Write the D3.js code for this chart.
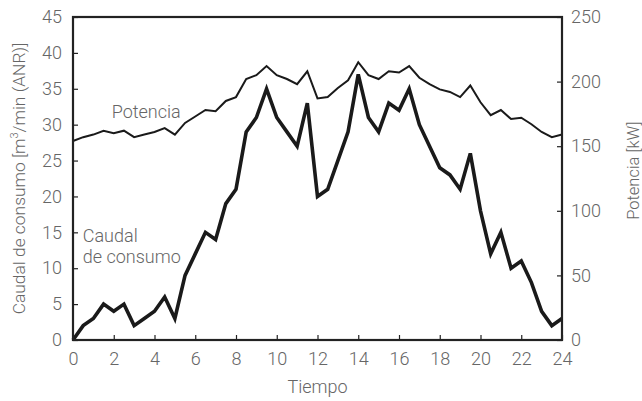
<!DOCTYPE html>
<html>
<head>
<meta charset="utf-8">
<script src="https://cdn.jsdelivr.net/npm/d3@7"></script>
<style>
  html, body { margin: 0; padding: 0; background: #fff; }
  svg text { font-family: "Roboto", "Liberation Sans", sans-serif; font-weight: 300; fill: #666; }
</style>
</head>
<body>
<svg id="chart" width="642" height="401"></svg>
<script>
// Hourly time axis, readings every half hour
const hours = d3.range(0, 24.5, 0.5);

// Air consumption flow [m3/min (ANR)]
const caudal = [0, 2, 3, 5, 4, 5, 2, 3, 4, 6, 3, 9, 12, 15, 14, 19, 21, 29, 31, 35,
  31, 29, 27, 33, 20, 21, 25, 29, 37, 31, 29, 33, 32, 35, 30, 27, 24, 23, 21, 26,
  18, 12, 15, 10, 11, 8, 4, 2, 3];

// Compressor power [kW]
const potencia = [154, 157, 159, 162, 160, 162, 157, 159, 161, 164, 159, 168, 173, 178, 177, 185, 188, 202, 205, 212,
  205, 202, 198, 208, 187, 188, 195, 201, 215, 205, 202, 208, 207, 212, 203, 198, 194, 192, 188, 197,
  184, 174, 178, 171, 172, 167, 161, 157, 159];

const xTicks = d3.range(0, 25, 2);
const leftTicks = d3.range(0, 46, 5);
const rightTicks = d3.range(0, 251, 50);

const svg = d3.select("#chart");
const margin = { left: 73, right: 80, top: 17, bottom: 61 };
const W = 642, H = 401;
const x = d3.scaleLinear().domain([0, 24]).range([margin.left, W - margin.right]);
const yL = d3.scaleLinear().domain([0, 45]).range([H - margin.bottom, margin.top]);
const yR = d3.scaleLinear().domain([0, 250]).range([H - margin.bottom, margin.top]);

const axisColor = "#222";
const fontSize = 18;

// Series
const lineThin = d3.line().x((d, i) => x(hours[i])).y(d => yR(d));
const lineThick = d3.line().x((d, i) => x(hours[i])).y(d => yL(d));

svg.append("path").datum(potencia)
  .attr("d", lineThin).attr("fill", "none")
  .attr("stroke", "#1a1a1a").attr("stroke-width", 2).attr("stroke-linejoin", "miter");
svg.append("path").datum(caudal)
  .attr("d", lineThick).attr("fill", "none")
  .attr("stroke", "#1a1a1a").attr("stroke-width", 3.6).attr("stroke-linejoin", "miter");

// Axes with inward ticks
function styleAxis(g) {
  g.select(".domain").remove();
  g.selectAll(".tick line").attr("stroke", axisColor).attr("stroke-width", 1.2);
  g.selectAll(".tick text").attr("font-size", fontSize)
    .style("font-family", "Roboto, 'Liberation Sans', sans-serif").style("font-weight", 300)
    .attr("fill", "#666");
}

svg.append("g").attr("transform", `translate(0,${yL(0)})`)
  .call(d3.axisBottom(x).tickValues(xTicks).tickSizeInner(-5).tickSizeOuter(0).tickPadding(12))
  .call(styleAxis);

svg.append("g").attr("transform", `translate(${x(0)},0)`)
  .call(d3.axisLeft(yL).tickValues(leftTicks).tickSizeInner(-5).tickSizeOuter(0).tickPadding(11))
  .call(styleAxis);

svg.append("g").attr("transform", `translate(${x(24)},0)`)
  .call(d3.axisRight(yR).tickValues(rightTicks).tickSizeInner(-5).tickSizeOuter(0).tickPadding(9))
  .call(styleAxis);

// Plot frame
svg.append("rect")
  .attr("x", x(0)).attr("y", yL(45))
  .attr("width", x(24) - x(0)).attr("height", yL(0) - yL(45))
  .attr("fill", "none").attr("stroke", axisColor).attr("stroke-width", 2.2);

// Axis titles
svg.append("text")
  .attr("transform", `translate(${x(12)},393)`)
  .attr("text-anchor", "middle").attr("font-size", fontSize)
  .text("Tiempo");

const leftTitle = svg.append("text")
  .attr("transform", `translate(25,${(yL(0) + yL(45)) / 2}) rotate(-90)`)
  .attr("text-anchor", "middle").attr("font-size", 17.4);
leftTitle.append("tspan").text("Caudal de consumo [m");
leftTitle.append("tspan").attr("dy", -7).attr("font-size", 11).text("3");
leftTitle.append("tspan").attr("dy", 7).text("/min (ANR)]");

svg.append("text")
  .attr("transform", `translate(639,${yR(131)}) rotate(-90)`)
  .attr("text-anchor", "middle").attr("font-size", 16.5)
  .text("Potencia [kW]");

// Series labels
svg.append("text")
  .attr("x", x(1.9)).attr("y", yR(171.5))
  .attr("font-size", fontSize).text("Potencia");

const cl = svg.append("text").attr("font-size", fontSize);
cl.append("tspan").attr("x", x(0.48)).attr("y", yL(13.6)).text("Caudal");
cl.append("tspan").attr("x", x(0.48)).attr("y", yL(10.7)).text("de consumo");
</script>
</body>
</html>
